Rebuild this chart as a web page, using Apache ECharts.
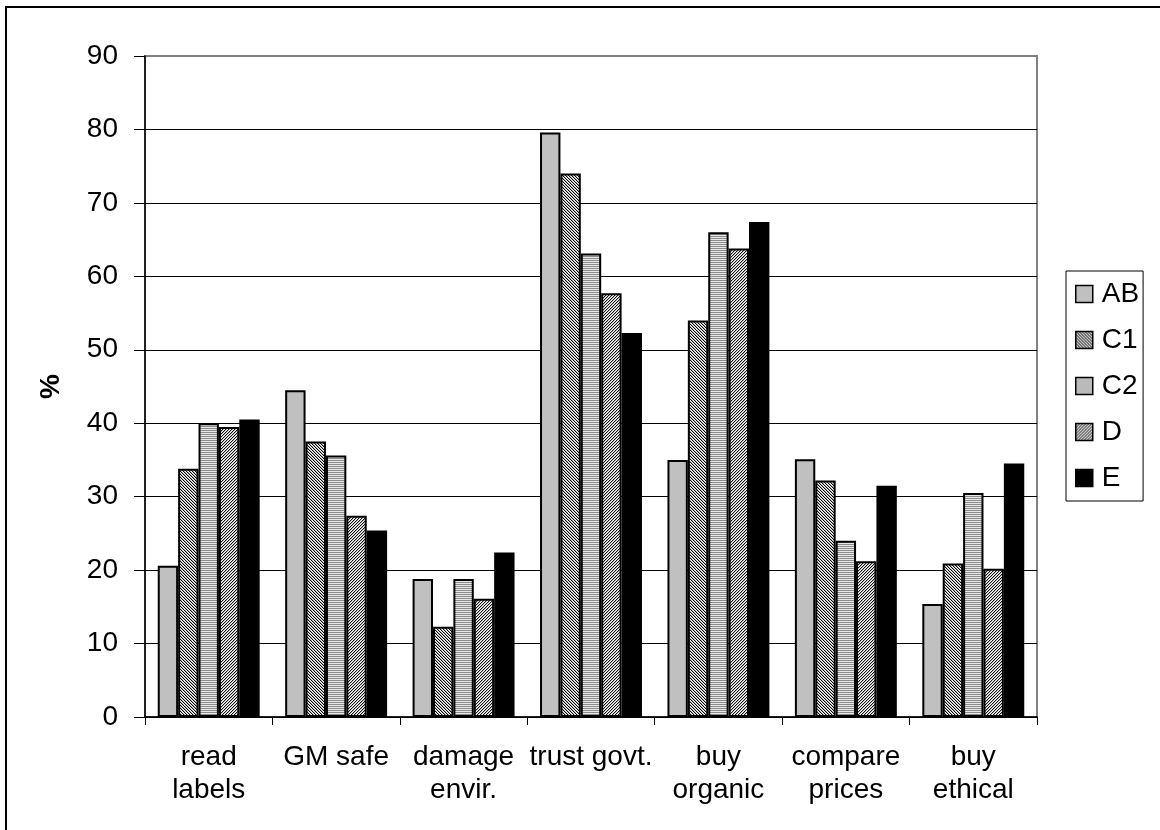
<!DOCTYPE html>
<html>
<head>
<meta charset="utf-8">
<script src="https://cdn.jsdelivr.net/npm/echarts@6/dist/echarts.min.js"></script>
<style>
  html, body { margin: 0; padding: 0; background: #fff; }
  #chart { width: 1160px; height: 830px; }
</style>
</head>
<body>
<div id="chart"></div>
<script>
// Survey categories and the share (%) of each social grade agreeing
const categories = ['read\nlabels', 'GM safe', 'damage\nenvir.', 'trust govt.', 'buy\norganic', 'compare\nprices', 'buy\nethical'];
const seriesNames = ['AB', 'C1', 'C2', 'D', 'E'];
const valuesAB = [20.6, 44.5, 18.8, 79.6, 35.0, 35.1, 15.4];
const valuesC1 = [33.8, 37.5, 12.3, 74.0, 54.0, 32.2, 20.9];
const valuesC2 = [40.0, 35.6, 18.8, 63.1, 66.0, 24.0, 30.5];
const valuesD  = [39.5, 27.4, 16.1, 57.7, 63.8, 21.2, 20.2];
const valuesE  = [40.5, 25.4, 22.4, 52.3, 67.4, 31.5, 34.5];
const yTicks = [0, 10, 20, 30, 40, 50, 60, 70, 80, 90];

// Small bitmap fills for the monochrome bar patterns
function makePattern(size, pick) {
  const c = document.createElement('canvas');
  c.width = size; c.height = size;
  const ctx = c.getContext('2d');
  for (let y = 0; y < size; y++) {
    for (let x = 0; x < size; x++) {
      ctx.fillStyle = pick(x, y);
      ctx.fillRect(x, y, 1, 1);
    }
  }
  return { image: c, repeat: 'repeat' };
}
const fillC1 = makePattern(6, (x, y) => {
  const k = ((x - y) % 3 + 3) % 3;
  return k === 0 ? '#000000' : (k === 1 ? '#b0b0b0' : '#ffffff');
});
const fillC2 = makePattern(4, (x, y) => (y % 2 === 0 ? '#8c8c8c' : '#e8e8e8'));
const fillD = makePattern(6, (x, y) => {
  const k = (x + y) % 3;
  return k === 0 ? '#1a1a1a' : (k === 1 ? '#b4b4b4' : '#ffffff');
});
const fills = ['#c0c0c0', fillC1, fillC2, fillD, '#000000'];
const seriesValues = [valuesAB, valuesC1, valuesC2, valuesD, valuesE];

const font = '"Liberation Sans", Arial, sans-serif';
const chart = echarts.init(document.getElementById('chart'), null, { renderer: 'canvas' });

chart.setOption({
  animation: false,
  backgroundColor: '#ffffff',
  textStyle: { fontFamily: font, color: '#000' },
  graphic: [{
    type: 'rect',
    shape: { x: 6, y: 7, width: 1300, height: 1000 },
    style: { fill: 'none', stroke: '#000', lineWidth: 2 },
    silent: true
  }],
  grid: {
    left: 145, right: 123, top: 56, bottom: 113,
    show: true, borderColor: '#808080', borderWidth: 2, backgroundColor: 'transparent'
  },
  legend: {
    orient: 'vertical',
    left: 1066, top: 271,
    padding: [9, 4, 9, 9],
    itemGap: 18,
    itemWidth: 17, itemHeight: 17,
    itemStyle: { borderColor: '#000', borderWidth: 1.5 },
    icon: 'rect',
    borderColor: '#000', borderWidth: 1,
    backgroundColor: '#fff',
    textStyle: { fontSize: 28, lineHeight: 26, color: '#000', fontFamily: font, padding: [0, 0, 0, 4] },
    data: seriesNames
  },
  xAxis: {
    type: 'category',
    data: categories,
    axisLine: { show: true, lineStyle: { color: '#000', width: 1.5 } },
    axisTick: { show: true, interval: 0, length: 8, lineStyle: { color: '#000', width: 1 } },
    axisLabel: { interval: 0, fontSize: 28, lineHeight: 33, margin: 24, color: '#000', fontFamily: font },
    splitLine: { show: false }
  },
  yAxis: {
    type: 'value',
    min: yTicks[0], max: yTicks[yTicks.length - 1], interval: 10,
    name: '%',
    nameLocation: 'middle',
    nameRotate: 90,
    nameGap: 80,
    nameTextStyle: { fontSize: 28, fontWeight: 'bold', color: '#000', fontFamily: font },
    axisLine: { show: true, lineStyle: { color: '#000', width: 1.5 } },
    axisTick: { show: true, length: 11, lineStyle: { color: '#000', width: 1 } },
    axisLabel: { fontSize: 28, margin: 27, color: '#000', fontFamily: font },
    splitLine: {
      show: true,
      lineStyle: {
        color: ['#000', '#000', '#000', '#000', '#000', '#000', '#000', '#000', '#000', '#808080'],
        width: 1
      }
    }
  },
  series: seriesNames.map((name, i) => ({
    name: name,
    type: 'bar',
    data: seriesValues[i],
    barGap: '0%',
    barCategoryGap: '20%',
    itemStyle: { color: fills[i], borderColor: '#000', borderWidth: 2 },
    emphasis: { disabled: true }
  }))
});
</script>
</body>
</html>
